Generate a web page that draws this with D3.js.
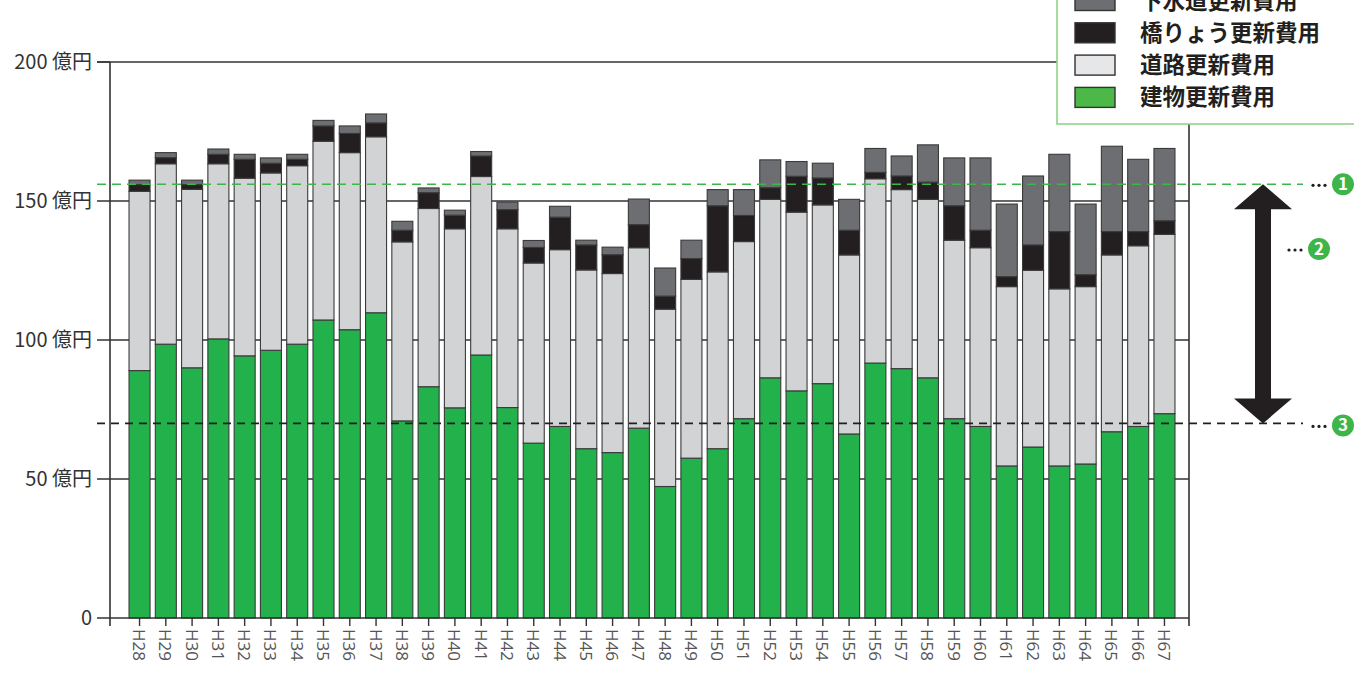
<!DOCTYPE html>
<html><head><meta charset="utf-8">
<script src="https://cdn.jsdelivr.net/npm/d3@7"></script>
<style>
html,body{margin:0;padding:0;background:#fff;}
svg{display:block;font-family:"Noto Sans CJK JP","Noto Sans",sans-serif;}
</style></head>
<body>
<svg id="c" width="1354" height="675"></svg>
<script>
const categories = ["H28","H29","H30","H31","H32","H33","H34","H35","H36","H37","H38","H39","H40","H41","H42","H43","H44","H45","H46","H47","H48","H49","H50","H51","H52","H53","H54","H55","H56","H57","H58","H59","H60","H61","H62","H63","H64","H65","H66","H67"];
const building = [89.0,98.5,90.0,100.4,94.3,96.3,98.5,107.2,103.7,109.8,70.9,83.2,75.6,94.6,75.7,62.9,68.9,60.9,59.5,68.3,47.3,57.5,60.9,71.7,86.4,81.7,84.3,66.2,91.7,89.7,86.4,71.7,68.9,54.7,61.5,54.7,55.4,67.0,68.9,73.5];
const road = [64.5,64.9,64.2,63.0,63.9,63.8,64.2,64.3,63.7,63.3,64.4,64.1,64.4,64.2,64.3,64.8,63.6,64.3,64.4,64.9,63.8,64.3,63.6,63.7,64.2,64.3,64.3,64.4,66.3,64.4,64.2,64.2,64.3,64.5,63.6,63.7,63.8,63.6,65.0,64.5];
const bridge = [2.4,2.2,1.7,3.4,6.8,3.5,2.3,5.5,6.9,5.0,4.2,5.7,4.9,7.4,6.9,5.6,11.7,9.0,6.8,8.3,4.7,7.5,23.8,9.4,4.2,12.9,9.7,8.9,2.3,4.9,6.2,12.4,6.3,3.6,9.1,20.6,4.3,8.4,5.1,4.9];
const sewer = [1.6,1.8,1.6,1.9,1.8,1.9,1.8,2.0,2.7,3.2,3.2,1.7,1.8,1.6,2.7,2.5,3.9,1.7,2.7,9.2,10.1,6.6,5.8,9.3,10.0,5.3,5.3,11.1,8.6,7.2,13.4,17.2,26.0,26.1,24.8,27.8,25.4,30.7,26.0,26.0];
const seriesNames = ["建物更新費用","道路更新費用","橋りょう更新費用","下水道更新費用"];
const yTicks = [0,50,100,150,200];
const yTickLabels = ["0","50 億円","100 億円","150 億円","200 億円"];
const refTop = 156;     // ①
const refBottom = 70;   // ③

const barColors = ["#23b14c","#d1d3d4","#231f20","#6d6e71"];
const legendColors = ["#4cb848","#e6e7e8","#231f20","#6d6e71"];

const svg = d3.select("#c");
const x = d3.scaleBand().domain(categories).range([126.4,1177.6]).paddingInner(0.2).paddingOuter(0.1);
const y = d3.scaleLinear().domain([0,200]).range([618,62]);
const axL = 110, axR = 1189;

// gridlines
svg.append("g").selectAll("line").data(yTicks.filter(d=>d>0)).join("line")
  .attr("x1",97).attr("x2",d=>d===200?1058:axR)
  .attr("y1",d=>y(d)).attr("y2",d=>y(d))
  .attr("stroke","#333").attr("stroke-width",1.4);

// stacked bars
const rows = categories.map((c,i)=>({cat:c, b:building[i], r:road[i], br:bridge[i], s:sewer[i]}));
const stack = d3.stack().keys(["b","r","br","s"])(rows);
const g = svg.append("g");
stack.forEach((layer,li)=>{
  g.append("g").selectAll("rect").data(layer).join("rect")
    .attr("x",d=>x(d.data.cat)).attr("width",x.bandwidth())
    .attr("y",d=>y(d[1])).attr("height",d=>y(d[0])-y(d[1]))
    .attr("fill",barColors[li]).attr("stroke","#3a3a3a").attr("stroke-width",1.1);
});

// axes
svg.append("line").attr("x1",axL).attr("x2",axL).attr("y1",y(200)).attr("y2",626).attr("stroke","#333").attr("stroke-width",1.6);
svg.append("line").attr("x1",axR).attr("x2",axR).attr("y1",124).attr("y2",626).attr("stroke","#333").attr("stroke-width",1.6);
svg.append("line").attr("x1",97).attr("x2",axR).attr("y1",y(0)).attr("y2",y(0)).attr("stroke","#333").attr("stroke-width",1.6);
svg.append("line").attr("x1",97).attr("x2",axL).attr("y1",y(200)).attr("y2",y(200)).attr("stroke","#333").attr("stroke-width",1.4);

// y labels
svg.append("g").selectAll("text").data(yTicks).join("text")
  .attr("x",92).attr("y",d=>y(d)+7).attr("text-anchor","end")
  .attr("font-size",20).attr("fill","#333")
  .text((d,i)=>yTickLabels[i]);

// x ticks & labels
const xg = svg.append("g");
xg.selectAll("line").data(categories).join("line")
  .attr("x1",d=>x(d)+x.bandwidth()/2).attr("x2",d=>x(d)+x.bandwidth()/2)
  .attr("y1",618).attr("y2",626).attr("stroke","#333").attr("stroke-width",1.4);
xg.selectAll("text").data(categories).join("text")
  .attr("transform",d=>`translate(${x(d)+x.bandwidth()/2-6.5},629) rotate(90)`)
  .attr("font-size",17).attr("fill","#555").attr("font-family","'Open Sans',sans-serif")
  .text(d=>d);

// reference dashed lines
svg.append("line").attr("x1",97).attr("x2",1303).attr("y1",y(refTop)).attr("y2",y(refTop))
  .attr("stroke","#3cb54a").attr("stroke-width",1.6).attr("stroke-dasharray","9,6");
svg.append("line").attr("x1",97).attr("x2",1303).attr("y1",y(refBottom)).attr("y2",y(refBottom))
  .attr("stroke","#231f20").attr("stroke-width",1.6).attr("stroke-dasharray","8,6");

// double arrow
const ax = 1263, yt = y(refTop), yb = y(refBottom), hw = 29, hh = 25, sw = 8;
svg.append("path").attr("fill","#231f20")
  .attr("d",`M${ax},${yt} L${ax+hw},${yt+hh} L${ax+sw},${yt+hh} L${ax+sw},${yb-hh} L${ax+hw},${yb-hh} L${ax},${yb} L${ax-hw},${yb-hh} L${ax-sw},${yb-hh} L${ax-sw},${yt+hh} L${ax-hw},${yt+hh} Z`);

// markers
const markers = [{n:"1",cx:1343,cy:y(refTop)},{n:"2",cx:1319,cy:249},{n:"3",cx:1343,cy:y(refBottom)+2}];
markers.forEach(m=>{
  [0,1,2].forEach(k=>svg.append("circle").attr("cx",m.cx-30+k*6).attr("cy",m.cy+1).attr("r",1.6).attr("fill","#231f20"));
  svg.append("circle").attr("cx",m.cx).attr("cy",m.cy).attr("r",11).attr("fill","#3db549");
  svg.append("text").attr("x",m.cx).attr("y",m.cy+6).attr("text-anchor","middle")
    .attr("font-size",17).attr("font-weight","bold").attr("fill","#fff").text(m.n);
});

// legend
const lg = svg.append("g");
lg.append("rect").attr("x",1057).attr("y",-20).attr("width",320).attr("height",144)
  .attr("fill","#fff").attr("stroke","#8fd58a").attr("stroke-width",1.6);
const order = [3,2,1,0];
order.forEach((si,k)=>{
  const cy = 0.5 + k*32.3;
  lg.append("rect").attr("x",1075).attr("y",cy-10).attr("width",40).attr("height",20)
    .attr("fill",legendColors[si]).attr("stroke","#333").attr("stroke-width",1.4);
  lg.append("text").attr("x",1140).attr("y",cy+8).attr("font-size",22.5).attr("font-weight","bold")
    .attr("fill","#231f20").text(seriesNames[si]);
});
</script>
</body></html>
